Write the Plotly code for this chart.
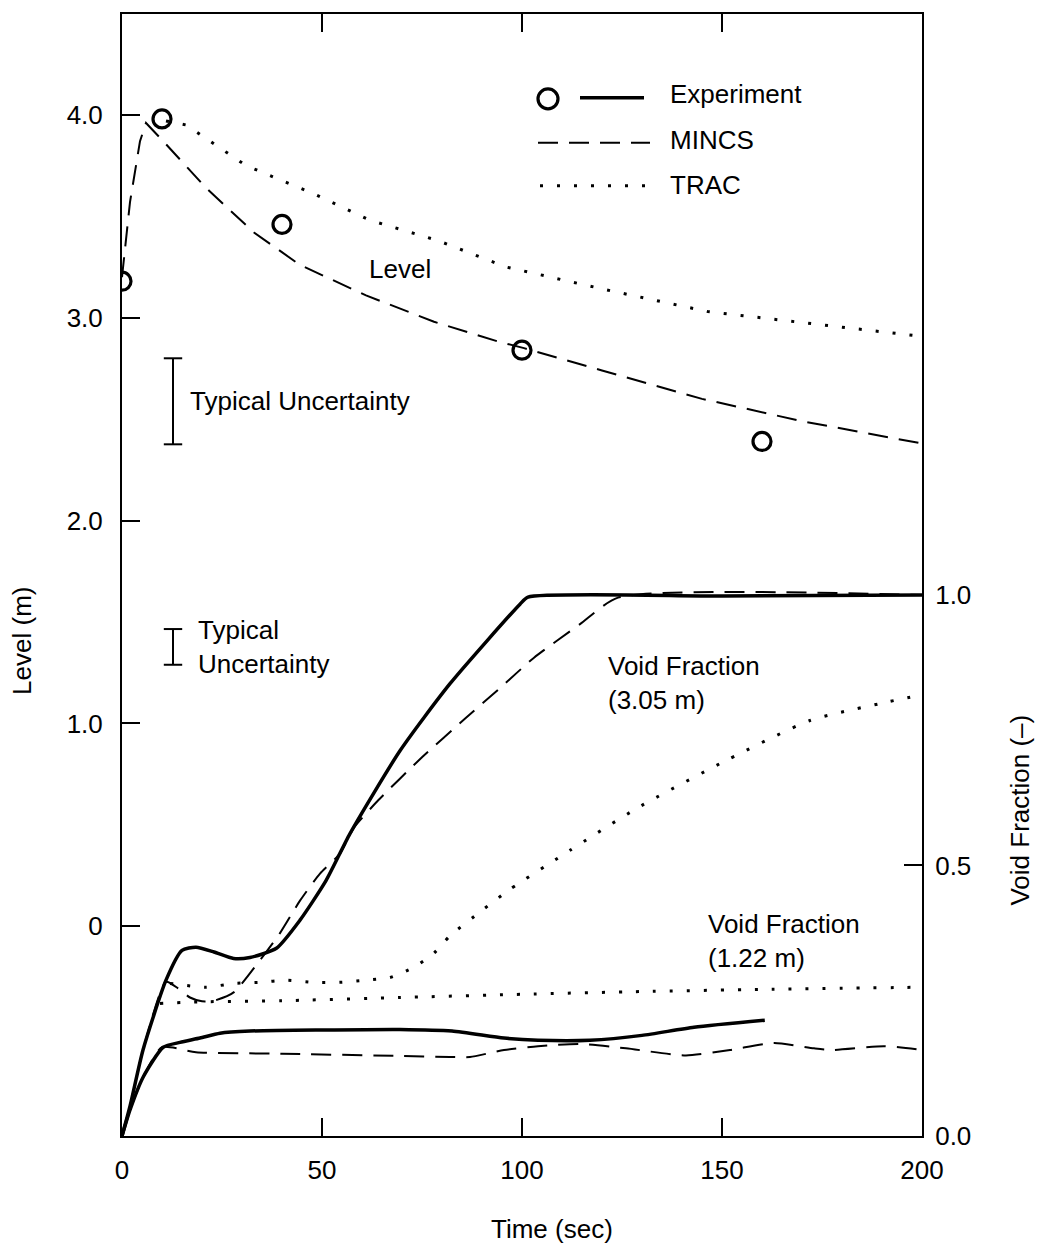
import plotly.graph_objects as go

# ---------------- data ----------------
# Collapsed level (m), left axis
exp_level_t = [0, 10, 40, 100, 160]
exp_level = [3.18, 3.98, 3.46, 2.84, 2.39]

mincs_level_t = [0, 2, 4.5, 6, 10.3, 21, 33, 44.5, 61, 78, 94.5, 100.5, 120, 145, 170, 200]
mincs_level = [3.20, 3.57, 3.87, 3.96, 3.87, 3.64, 3.42, 3.26, 3.11, 2.98, 2.88, 2.85, 2.74, 2.60, 2.49, 2.38]

trac_level_t = [11, 16, 31, 48, 62, 79, 96, 120.5, 146.5, 172, 199]
trac_level = [3.97, 3.95, 3.75, 3.61, 3.48, 3.38, 3.25, 3.14, 3.03, 2.97, 2.91]

# Void fraction at 3.05 m, right axis
exp_vf305_t = [0, 2, 5.25, 11, 15, 18.5, 23, 27.9, 32, 38.6, 44.5, 51, 57, 69.5, 82, 99.5, 101.5, 150, 200]
exp_vf305 = [0, 0.055, 0.159, 0.288, 0.343, 0.349, 0.340, 0.328, 0.330, 0.347, 0.399, 0.472, 0.559,
             0.712, 0.836, 0.983, 0.996, 0.998, 1.0]

mincs_vf305_t = [0, 2, 5.25, 11, 14, 17, 20, 23, 28, 34.5, 39.5, 44.5, 49.5, 54.5, 58, 64, 75, 86,
                 94.5, 103, 114.5, 124, 200]
mincs_vf305 = [0, 0.055, 0.159, 0.285, 0.273, 0.256, 0.249, 0.250, 0.266, 0.325, 0.375, 0.435, 0.485,
               0.522, 0.570, 0.62, 0.70, 0.773, 0.828, 0.884, 0.946, 0.995, 1.0]

trac_vf305_t = [12, 21, 28, 34.5, 41, 48, 54.5, 61, 67, 73, 78, 82, 90, 97, 112, 129, 151, 172, 190, 199]
trac_vf305 = [0.282, 0.275, 0.282, 0.284, 0.288, 0.284, 0.284, 0.288, 0.293, 0.312, 0.338, 0.37, 0.417,
              0.456, 0.528, 0.607, 0.694, 0.768, 0.80, 0.814]

# Void fraction at 1.22 m, right axis
exp_vf122_t = [0, 2, 5.3, 10.3, 14.5, 19.5, 24.5, 32, 50, 69.5, 82.5, 95.5, 104, 117, 130, 143, 160.7]
exp_vf122 = [0, 0.048, 0.109, 0.164, 0.173, 0.181, 0.19, 0.194, 0.196, 0.197, 0.194, 0.181, 0.177,
             0.177, 0.186, 0.201, 0.214]

mincs_vf122_t = [0, 2, 5.3, 10, 18.5, 40, 69.5, 82, 87, 95.5, 104, 115, 126, 141, 152, 163, 173,
                 177.5, 190.5, 200]
mincs_vf122 = [0, 0.048, 0.109, 0.164, 0.155, 0.152, 0.148, 0.146, 0.146, 0.159, 0.166, 0.17, 0.162,
               0.149, 0.159, 0.172, 0.162, 0.159, 0.166, 0.159]

trac_vf122_t = [9.5, 20, 40, 69.5, 100, 130, 160, 200]
trac_vf122 = [0.245, 0.248, 0.25, 0.256, 0.262, 0.267, 0.271, 0.275]

# Typical uncertainty bars (time, low, high)
unc_level = (12.75, 2.376, 2.80)
unc_void = (12.75, 0.871, 0.937)

x_ticks = [0, 50, 100, 150, 200]
x_tick_text = ["0", "50", "100", "150", "200"]
level_ticks = [0, 1, 2, 3, 4]
level_tick_text = ["0", "1.0", "2.0", "3.0", "4.0"]
void_ticks = [0, 0.5, 1.0]
void_tick_text = ["0.0", "0.5", "1.0"]

# ---------------- styles ----------------
FONT = "Liberation Sans, Arial, Helvetica, sans-serif"
FS = 26
BLACK = "#000000"
SOLID = dict(color=BLACK, width=3.5)
DASH = dict(color=BLACK, width=2, dash="20px,11px")
DOT = dict(color=BLACK, width=3, dash="3px,14px")

W, H = 1040, 1250
ML, MR, MT, MB = 122, 118, 12, 114
PW, PH = W - ML - MR, H - MT - MB


def px(x):
    return (x - ML) / PW


def py(y):
    return (H - MB - y) / PH


fig = go.Figure()

# level curves
fig.add_trace(go.Scatter(x=mincs_level_t, y=mincs_level, mode="lines", line=DASH, yaxis="y"))
fig.add_trace(go.Scatter(x=trac_level_t, y=trac_level, mode="lines", line=DOT, yaxis="y"))
fig.add_trace(go.Scatter(x=exp_level_t, y=exp_level, mode="markers", yaxis="y",
                         marker=dict(symbol="circle-open", size=18, color=BLACK,
                                     line=dict(width=3.2, color=BLACK))))

# void fraction curves
for t, v, ln in [
    (mincs_vf305_t, mincs_vf305, DASH),
    (trac_vf305_t, trac_vf305, DOT),
    (mincs_vf122_t, mincs_vf122, DASH),
    (trac_vf122_t, trac_vf122, DOT),
    (exp_vf305_t, exp_vf305, SOLID),
    (exp_vf122_t, exp_vf122, SOLID),
]:
    fig.add_trace(go.Scatter(x=t, y=v, mode="lines", line=dict(ln, shape="spline", smoothing=0.6),
                             yaxis="y2"))

shapes = []
# uncertainty I-bars
for (t, lo, hi), yref in [(unc_level, "y"), (unc_void, "y2")]:
    shapes.append(dict(type="line", xref="x", yref=yref, x0=t, x1=t, y0=lo, y1=hi,
                       line=dict(color=BLACK, width=2)))
    for yy in (lo, hi):
        shapes.append(dict(type="line", xref="x", yref=yref, x0=t - 2.3, x1=t + 2.3, y0=yy, y1=yy,
                           line=dict(color=BLACK, width=2)))

# legend keys
shapes.append(dict(type="circle", xref="paper", yref="paper",
                   x0=px(538), x1=px(558), y0=py(87), y1=py(107),
                   line=dict(color=BLACK, width=3.2)))
shapes.append(dict(type="line", xref="paper", yref="paper", x0=px(580), x1=px(644),
                   y0=py(96), y1=py(96), line=SOLID))
shapes.append(dict(type="line", xref="paper", yref="paper", x0=px(538), x1=px(650),
                   y0=py(141), y1=py(141), line=DASH))
shapes.append(dict(type="line", xref="paper", yref="paper", x0=px(540), x1=px(652),
                   y0=py(184), y1=py(184), line=DOT))

txt = dict(font=dict(family=FONT, size=FS, color=BLACK), showarrow=False, yanchor="middle")


def note(text, x, y, xref="paper", yref="paper", xanchor="center", **kw):
    return dict(text=text, x=x, y=y, xref=xref, yref=yref, xanchor=xanchor, **txt, **kw)


annotations = [
    note("Experiment", px(668), py(92), xanchor="left"),
    note("MINCS", px(668), py(138), xanchor="left"),
    note("TRAC", px(668), py(183), xanchor="left"),
    note("Level", 69.5, 3.24, xref="x", yref="y"),
    note("Typical Uncertainty", 16.5, 2.59, xref="x", yref="y", xanchor="left"),
    note("Typical<br>Uncertainty", 18.5, 0.904, xref="x", yref="y2", xanchor="left", align="left"),
    note("Void Fraction<br>(3.05 m)", 121, 0.838, xref="x", yref="y2", xanchor="left", align="left"),
    note("Void Fraction<br>(1.22 m)", 146, 0.360, xref="x", yref="y2", xanchor="left", align="left"),
    note("Level (m)", px(22), py(640), textangle=-90),
    note("Void Fraction (–)", px(1020), py(810), textangle=-90),
    note("Time (sec)", px(552), py(1229)),
]

axis_common = dict(showgrid=False, zeroline=False, showline=True, linecolor=BLACK, linewidth=2,
                   ticks="inside", tickcolor=BLACK, tickwidth=2, ticklen=18,
                   tickfont=dict(family=FONT, size=FS, color=BLACK))

level_range = [-(H - MB - 926) / 203.25, 4 + (113 - MT) / 203.25]
void_range = [0, PH / 542]

fig.update_layout(
    width=W, height=H,
    margin=dict(l=ML, r=MR, t=MT, b=MB),
    paper_bgcolor="white", plot_bgcolor="white",
    showlegend=False,
    xaxis=dict(axis_common, range=[0, 200], tickvals=x_ticks, ticktext=x_tick_text,
               mirror="ticks", ticklabelstandoff=10),
    yaxis=dict(axis_common, range=level_range, tickvals=level_ticks, ticktext=level_tick_text,
               ticklabelstandoff=12),
    yaxis2=dict(axis_common, range=void_range, tickvals=void_ticks, ticktext=void_tick_text,
                overlaying="y", side="right", ticklabelstandoff=6),
    shapes=shapes,
    annotations=annotations,
)

fig.write_html("out.html")
